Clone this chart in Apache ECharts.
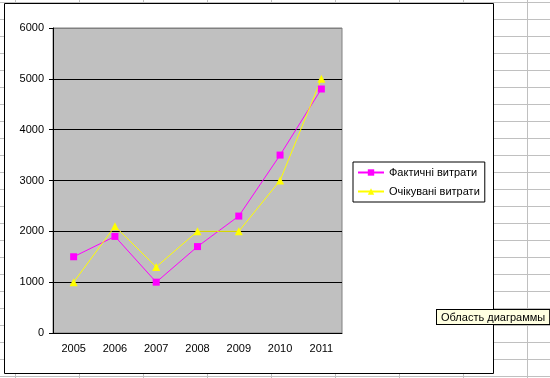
<!DOCTYPE html>
<html>
<head>
<meta charset="utf-8">
<script src="https://cdn.jsdelivr.net/npm/echarts@6/dist/echarts.min.js"></script>
<style>
  body { margin: 0; background: #fff; }
  /* сітка аркуша Excel за діаграмою */
  #sheet {
    position: absolute; left: 0; top: 0; width: 550px; height: 378px;
    background-image:
      linear-gradient(to right, #c0c0c0 1px, transparent 1px),
      linear-gradient(to bottom, #c0c0c0 1px, transparent 1px);
    background-size: 64px 17px;
    background-position: 15px 2px;
  }
  #chart { position: absolute; left: 0; top: 0; width: 550px; height: 378px; }
</style>
</head>
<body>
<div id="sheet"></div>
<div id="chart"></div>
<script>
const years = ['2005', '2006', '2007', '2008', '2009', '2010', '2011']
const factual = [1500, 1900, 1000, 1700, 2300, 3500, 4800]
const expected = [1000, 2100, 1300, 2000, 2000, 3000, 5000]
const seriesNames = ['Фактичні витрати', 'Очікувані витрати']
const tipText = 'Область диаграммы'

const font = 'Arial, "Liberation Sans", sans-serif'
const chart = echarts.init(document.getElementById('chart'), null, { renderer: 'canvas' })

const option = {
  animation: false,
  backgroundColor: 'transparent',
  graphic: [
    {
      // рамка області діаграми
      type: 'rect', z: -10, silent: true,
      shape: { x: 4.5, y: 3.5, width: 489, height: 370 },
      style: { fill: '#fff', stroke: '#000', lineWidth: 1 }
    },
    {
      type: 'text', z: 100, left: 436, top: 309,
      style: {
        text: tipText, font: '11px ' + font, fill: '#000',
        backgroundColor: '#ffffe1', borderColor: '#000', borderWidth: 1,
        padding: [2, 4, 1, 4]
      }
    }
  ],
  grid: {
    left: 53, right: 208, top: 28, bottom: 45,
    show: true, backgroundColor: '#c0c0c0', borderColor: '#808080', borderWidth: 1
  },
  legend: {
    orient: 'vertical', left: 353, top: 162,
    data: seriesNames,
    borderColor: '#000', borderWidth: 1, padding: [5, 5, 5, 4],
    itemWidth: 26, itemHeight: 8, itemGap: 8,
    textStyle: { fontFamily: font, fontSize: 11, color: '#000' }
  },
  xAxis: {
    type: 'category', data: years, boundaryGap: true,
    axisLine: { lineStyle: { color: '#000' } },
    axisTick: { lineStyle: { color: '#000' }, length: 4 },
    axisLabel: { color: '#000', fontFamily: font, fontSize: 11, margin: 10 }
  },
  yAxis: {
    type: 'value', min: 0, max: 6000, interval: 1000,
    axisLine: { show: true, lineStyle: { color: '#000' } },
    axisTick: { show: true, lineStyle: { color: '#000' }, length: 4 },
    axisLabel: {
      color: '#000', fontFamily: font, fontSize: 11, margin: 9,
      formatter: v => String(v)
    },
    splitLine: {
      show: true,
      lineStyle: { color: ['#000', '#000', '#000', '#000', '#000', '#000', '#808080'], width: 1 }
    }
  },
  series: [
    {
      name: seriesNames[0], type: 'line', data: factual,
      symbol: 'rect', symbolSize: 7,
      itemStyle: { color: '#ff00ff' },
      lineStyle: { color: '#ff00ff', width: 1 }
    },
    {
      name: seriesNames[1], type: 'line', data: expected,
      symbol: 'triangle', symbolSize: 8,
      itemStyle: { color: '#ffff00' },
      lineStyle: { color: '#ffff00', width: 1 }
    }
  ]
}
chart.setOption(option)
</script>
</body>
</html>
